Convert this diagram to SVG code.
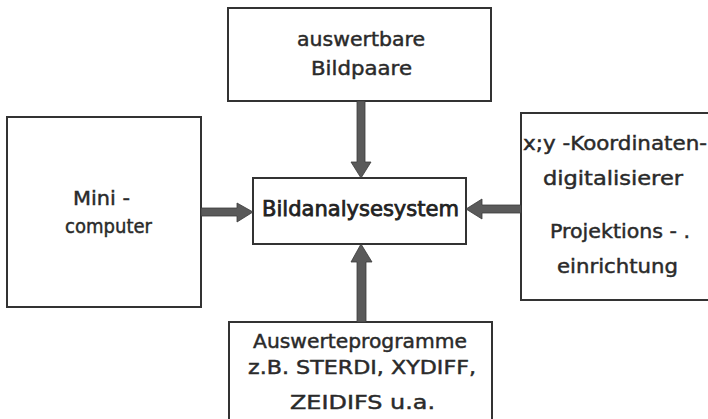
<svg xmlns="http://www.w3.org/2000/svg" width="708" height="419" viewBox="0 0 708 419">
  <style>
    .box { fill: #fff; stroke: #333; stroke-width: 2; }
    .lbl { font-family: "DejaVu Sans", "Liberation Sans", sans-serif; font-size: 19.5px; fill: #2a2a2a; stroke: #2a2a2a; stroke-width: 0.45; text-anchor: middle; }
    .big { font-size: 20.5px; fill: #222; stroke: #222; stroke-width: 0.75; }
    .arrow { fill: #5a5a5a; stroke: #3a3a3a; stroke-width: 0.8; }
  </style>
  <rect width="708" height="419" fill="#fff"/>

  <g id="bildpaare">
    <rect class="box" x="228" y="8" width="263" height="93"/>
    <text class="lbl" x="361" y="46" textLength="128" lengthAdjust="spacingAndGlyphs">auswertbare</text>
    <text class="lbl" x="361.5" y="75" textLength="101" lengthAdjust="spacingAndGlyphs">Bildpaare</text>
  </g>

  <g id="minicomputer">
    <rect class="box" x="7" y="117" width="194" height="190"/>
    <text class="lbl" x="101.5" y="205" textLength="57" lengthAdjust="spacingAndGlyphs">Mini -</text>
    <text class="lbl" x="108.5" y="233" textLength="87" lengthAdjust="spacingAndGlyphs">computer</text>
  </g>

  <g id="bildanalysesystem">
    <rect class="box" x="253" y="178" width="213" height="66"/>
    <text class="lbl big" x="360.5" y="216" textLength="197" lengthAdjust="spacingAndGlyphs">Bildanalysesystem</text>
  </g>

  <g id="digitalisierer">
    <rect class="box" x="521" y="113" width="200" height="187"/>
    <text class="lbl" x="615" y="150" textLength="184" lengthAdjust="spacingAndGlyphs">x;y -Koordinaten-</text>
    <text class="lbl" x="613" y="185" textLength="140" lengthAdjust="spacingAndGlyphs">digitalisierer</text>
    <text class="lbl" x="620" y="238" textLength="140" lengthAdjust="spacingAndGlyphs">Projektions - .</text>
    <text class="lbl" x="617.5" y="273" textLength="121" lengthAdjust="spacingAndGlyphs">einrichtung</text>
  </g>

  <g id="auswerteprogramme">
    <rect class="box" x="229" y="322" width="263" height="100"/>
    <text class="lbl" x="360" y="348" textLength="214" lengthAdjust="spacingAndGlyphs">Auswerteprogramme</text>
    <text class="lbl" x="362" y="374" textLength="228" lengthAdjust="spacingAndGlyphs">z.B. STERDI,  XYDIFF,</text>
    <text class="lbl" x="362.5" y="409" textLength="145" lengthAdjust="spacingAndGlyphs">ZEIDIFS  u.a.</text>
  </g>

  <g id="connectors">
    <!-- from Bildpaare down -->
    <path class="arrow" d="M357,101 H365 V162 H371 L361,178 L351,162 H357 Z"/>
    <!-- from Minicomputer right -->
    <path class="arrow" d="M201,208 V216 H237 V222 L253,212 L237,203 V208 Z"/>
    <!-- from Digitalisierer left -->
    <path class="arrow" d="M521,205 V213 H482 V219 L466,209 L482,199 V205 Z"/>
    <!-- from Auswerteprogramme up -->
    <path class="arrow" d="M357,322 H366 V262 H372 L361,244 L351,262 H357 Z"/>
  </g>
</svg>
